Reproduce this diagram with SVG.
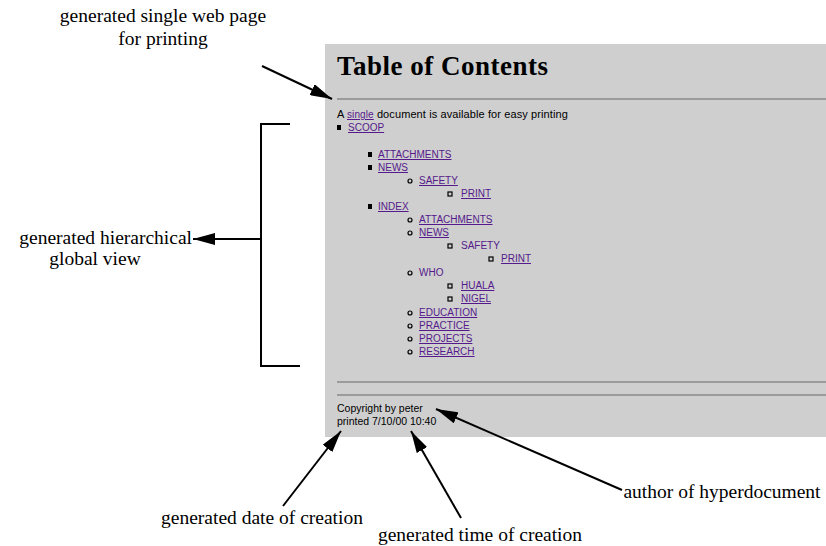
<svg xmlns="http://www.w3.org/2000/svg" width="826" height="546" viewBox="0 0 826 546">
  <style>
    .lbl { font-family: "Liberation Serif", "Times New Roman", serif; font-size: 19.5px; fill: #000; }
    .page { fill: #cfcfcf; }
    .title { font-family: "Liberation Serif", serif; font-size: 27px; font-weight: bold; letter-spacing: 0.5px; fill: #000; }
    .txt { font-family: "Liberation Sans", Arial, sans-serif; font-size: 10.5px; fill: #000; }
    .intro { font-size: 11px; letter-spacing: 0.1px; }
    .lnk { font-family: "Liberation Sans", Arial, sans-serif; font-size: 10px; fill: #551a8b; text-decoration: underline; }
    .vis { font-family: "Liberation Sans", Arial, sans-serif; font-size: 10px; fill: #551a8b; }
    .hr { stroke: #8a8a8a; stroke-width: 1.5; }
    .line { stroke: #000; stroke-width: 2; fill: none; }
    .disc { fill: #000; }
    .circ { fill: none; stroke: #000; stroke-width: 1.2; }
    .sq { fill: none; stroke: #000; stroke-width: 1.2; }
  </style>
  <defs>
    <marker id="arrow" viewBox="0 0 22 12" refX="22" refY="6" markerWidth="22" markerHeight="12" markerUnits="userSpaceOnUse" orient="auto">
      <path d="M0,0 L22,6 L0,12 Z" fill="#000"/>
    </marker>
  </defs>

  <rect width="826" height="546" fill="#fff"/>

  <!-- browser page rendering -->
  <g id="page">
    <rect class="page" x="325" y="44" width="501" height="393"/>
    <text class="title" x="337" y="75">Table of Contents</text>
    <line class="hr" x1="337" y1="99" x2="826" y2="99"/>
    <text class="txt intro" x="337" y="118">A <tspan class="lnk" font-size="11px">single</tspan> document is available for easy printing</text>
    <rect class="disc" x="337" y="125" width="4" height="5"/>
    <text class="lnk" x="348" y="131">SCOOP</text>

    <rect class="disc" x="368" y="152" width="4" height="5"/>
    <text class="lnk" x="378" y="158">ATTACHMENTS</text>
    <rect class="disc" x="368" y="165" width="4" height="5"/>
    <text class="lnk" x="378" y="171">NEWS</text>
    <circle class="circ" cx="410" cy="181" r="2"/>
    <text class="lnk" x="419" y="184">SAFETY</text>
    <rect class="sq" x="448" y="192" width="4" height="4"/>
    <text class="lnk" x="461" y="197">PRINT</text>

    <rect class="disc" x="368" y="204" width="4" height="5"/>
    <text class="lnk" x="378" y="210">INDEX</text>
    <circle class="circ" cx="410" cy="220" r="2"/>
    <text class="lnk" x="419" y="223">ATTACHMENTS</text>
    <circle class="circ" cx="410" cy="233" r="2"/>
    <text class="lnk" x="419" y="236">NEWS</text>
    <rect class="sq" x="448" y="244" width="4" height="4"/>
    <text class="vis" x="461" y="249">SAFETY</text>
    <rect class="sq" x="489" y="257" width="4" height="4"/>
    <text class="lnk" x="501" y="262">PRINT</text>
    <circle class="circ" cx="410" cy="273" r="2"/>
    <text class="vis" x="419" y="276">WHO</text>
    <rect class="sq" x="448" y="284" width="4" height="4"/>
    <text class="lnk" x="461" y="289">HUALA</text>
    <rect class="sq" x="448" y="297" width="4" height="4"/>
    <text class="lnk" x="461" y="302">NIGEL</text>
    <circle class="circ" cx="410" cy="313" r="2"/>
    <text class="lnk" x="419" y="316">EDUCATION</text>
    <circle class="circ" cx="410" cy="326" r="2"/>
    <text class="lnk" x="419" y="329">PRACTICE</text>
    <circle class="circ" cx="410" cy="339" r="2"/>
    <text class="lnk" x="419" y="342">PROJECTS</text>
    <circle class="circ" cx="410" cy="352" r="2"/>
    <text class="lnk" x="419" y="355">RESEARCH</text>

    <line class="hr" x1="337" y1="382" x2="826" y2="382"/>
    <line class="hr" x1="337" y1="395" x2="826" y2="395"/>
    <text class="txt" x="337" y="412">Copyright by peter</text>
    <text class="txt" x="337" y="425">printed 7/10/00 10:40</text>
  </g>

  <!-- callout labels -->
  <g id="label-print">
    <text class="lbl" x="163" y="22" text-anchor="middle">generated single web page</text>
    <text class="lbl" x="163" y="45" text-anchor="middle">for printing</text>
  </g>
  <g id="label-global">
    <text class="lbl" x="192" y="244" text-anchor="end">generated hierarchical</text>
    <text class="lbl" x="95" y="265" text-anchor="middle">global view</text>
  </g>
  <g id="label-date">
    <text class="lbl" x="262" y="524" text-anchor="middle">generated date of creation</text>
  </g>
  <g id="label-time">
    <text class="lbl" x="480" y="541" text-anchor="middle">generated time of creation</text>
  </g>
  <g id="label-author">
    <text class="lbl" x="722" y="498" text-anchor="middle">author of hyperdocument</text>
  </g>

  <!-- connectors -->
  <g id="connectors">
    <path class="line" d="M290,124 H261 V366 H300"/>
    <line class="line" x1="261" y1="239" x2="193" y2="239" marker-end="url(#arrow)"/>
    <line class="line" x1="262" y1="66" x2="332" y2="99" marker-end="url(#arrow)"/>
    <line class="line" x1="283" y1="506" x2="341" y2="431" marker-end="url(#arrow)"/>
    <line class="line" x1="461" y1="518" x2="411" y2="431" marker-end="url(#arrow)"/>
    <line class="line" x1="622" y1="490" x2="436" y2="409" marker-end="url(#arrow)"/>
  </g>
</svg>
